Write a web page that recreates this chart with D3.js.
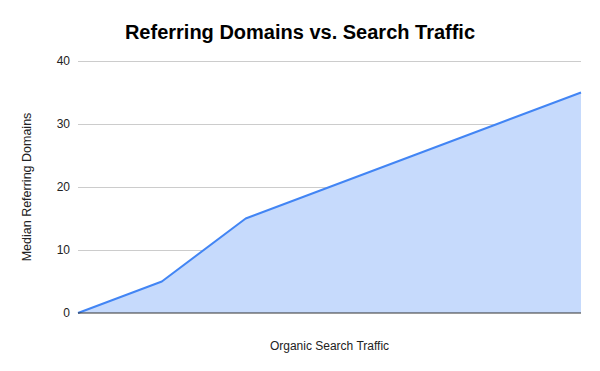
<!DOCTYPE html>
<html>
<head>
<meta charset="utf-8">
<script src="https://cdn.jsdelivr.net/npm/d3@7"></script>
<style>
  body { margin: 0; background: #fff; }
  svg { display: block; font-family: "Liberation Sans", Arial, sans-serif; }
</style>
</head>
<body>
<svg id="chart" width="600" height="371"></svg>
<script>
// traffic buckets (no labels shown on the x axis)
var buckets = [0, 1, 2, 3, 4, 5, 6];
var medianDomains = [0, 5, 15, 20, 25, 30, 35];
var yTicks = [0, 10, 20, 30, 40];

var svg = d3.select("#chart");
var margin = {top: 61, right: 19, bottom: 58, left: 78},
    width = +svg.attr("width") - margin.left - margin.right,
    height = +svg.attr("height") - margin.top - margin.bottom;

var g = svg.append("g").attr("transform", "translate(" + margin.left + "," + margin.top + ")");

var x = d3.scaleLinear().domain(d3.extent(buckets)).range([0, width]);
var y = d3.scaleLinear().domain([0, 40]).range([height, 0]);

// gridlines + tick labels
var yAxis = g.append("g")
    .call(d3.axisLeft(y).tickValues(yTicks).tickSize(-width).tickPadding(8));
yAxis.select(".domain").remove();
yAxis.selectAll(".tick line").attr("stroke", "#cccccc");
yAxis.selectAll(".tick text").attr("fill", "#222").style("font-size", "12px");
yAxis.selectAll(".tick").filter(function(d) { return d === 0; }).select("line").remove();

var pts = buckets.map(function(b, i) { return [b, medianDomains[i]]; });

g.append("path")
    .datum(pts)
    .attr("fill", "#c6dafc")
    .attr("d", d3.area().x(function(d) { return x(d[0]); }).y0(height).y1(function(d) { return y(d[1]); }));

g.append("path")
    .datum(pts)
    .attr("fill", "none")
    .attr("stroke", "#4285f4")
    .attr("stroke-width", 2)
    .attr("stroke-linejoin", "round")
    .attr("d", d3.line().x(function(d) { return x(d[0]); }).y(function(d) { return y(d[1]); }));

// baseline
g.append("line")
    .attr("x1", 0).attr("x2", width)
    .attr("y1", height).attr("y2", height)
    .attr("stroke", "#333").attr("stroke-width", 1);

svg.append("text")
    .attr("x", 300).attr("y", 39)
    .attr("text-anchor", "middle")
    .style("font-size", "20px").style("font-weight", "bold")
    .attr("fill", "#000")
    .text("Referring Domains vs. Search Traffic");

svg.append("text")
    .attr("x", margin.left + width / 2).attr("y", 350)
    .attr("text-anchor", "middle")
    .style("font-size", "12px").attr("fill", "#222")
    .text("Organic Search Traffic");

svg.append("text")
    .attr("transform", "translate(31," + (margin.top + height / 2) + ") rotate(-90)")
    .attr("text-anchor", "middle")
    .style("font-size", "12.5px").attr("fill", "#222")
    .text("Median Referring Domains");
</script>
</body>
</html>
